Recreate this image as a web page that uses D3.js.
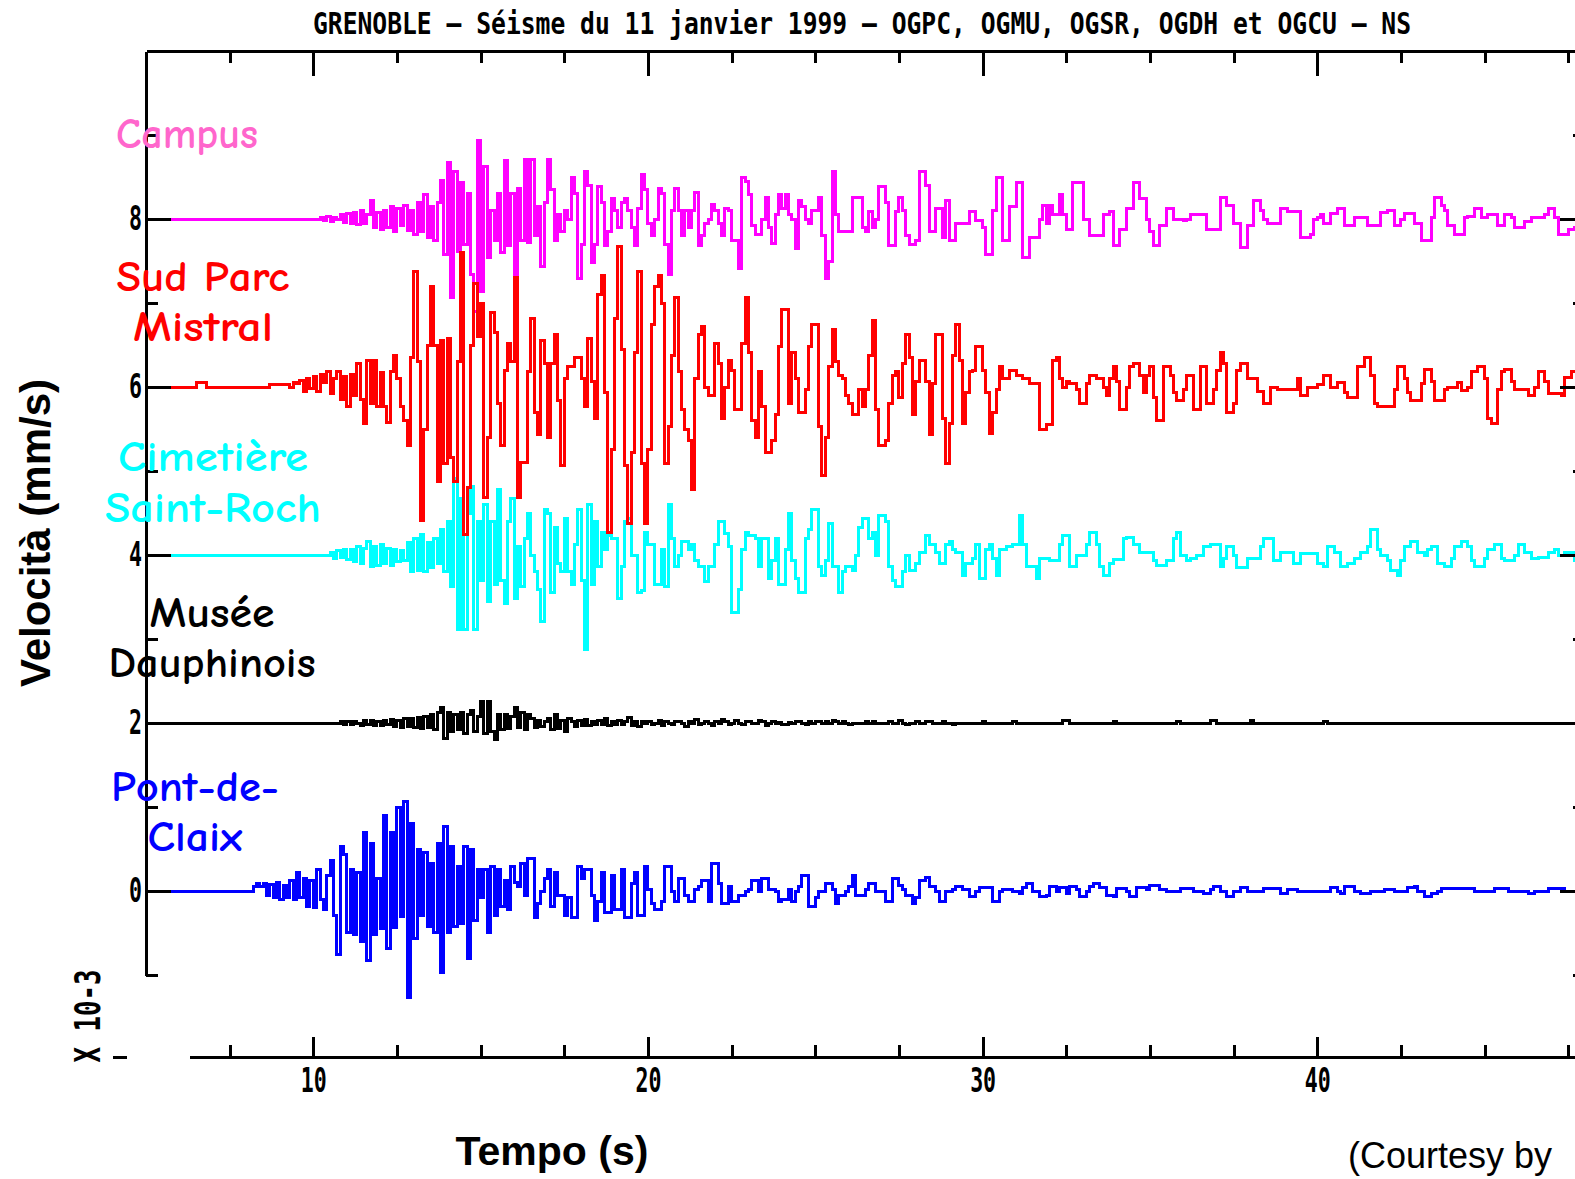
<!DOCTYPE html>
<html>
<head>
<meta charset="utf-8">
<script src="https://cdn.jsdelivr.net/npm/d3@7"></script>
<style>
  html, body { margin: 0; padding: 0; background: #fff; }
  svg { display: block; }
</style>
</head>
<body>
<svg id="chart" width="1575" height="1179"></svg>
<script>
// ---------------------------------------------------------------------------
// Data: NS velocity records of the 11 January 1999 Grenoble earthquake,
// five stations, sampled every 0.1 s (units: 10^-3 mm/s, deviation from the
// trace's own zero line). Each record starts at its onset time; before the
// onset the trace is at rest.
// ---------------------------------------------------------------------------
const titleText = "GRENOBLE – Séisme du 11 janvier 1999 – OGPC, OGMU, OGSR, OGDH et OGCU – NS";
const stationLabels = [["Campus"], ["Sud Parc", "Mistral"], ["Cimetière", "Saint-Roch"], ["Musée", "Dauphinois"], ["Pont-de-", "Claix"]];
const traceOffsets = [8, 6, 4, 2, 0];          // vertical shift of each record
const traceOnsets = [10.0, 6.0, 10.0, 10.0, 8.0]; // time of first listed sample (s)
const sampleStep = 0.1;                          // s
const yTickLabels = [0, 2, 4, 6, 8];
const xTickLabels = [10, 20, 30, 40];
const timeRange = [5, 48];
const velocityRange = [-1, 10];

const campusValues = [
  0,0,.02,-.02,.03,-.03,.02,-.01,.05,-.04,
  .06,-.05,.08,-.06,.1,-.05,.05,.22,-.1,.08,
  -.12,.1,-.1,.15,-.15,.12,-.08,.16,-.14,.1,
  -.18,.2,-.15,.29,-.22,.15,-.25,.2,.46,-.42,
  .67,-.93,.56,-.39,.43,-.3,.3,-.66,-1.1,.94,
  -.86,.63,-.46,.1,-.25,.3,-.4,.7,-.32,.3,
  -.66,.36,-.25,.71,-.28,.71,-.2,.15,-.56,.2,
  .71,.35,-.25,.05,-.15,.1,0,.5,.3,-.71,
  -.3,.56,.4,-.52,-.3,.39,.2,-.32,-.15,.25,
  .1,-.1,.2,.25,.1,-.1,-.32,.12,.53,.35,
  -.05,-.2,0,.36,.3,-.3,-.66,.1,.36,.1,
  -.2,.1,-.1,.1,.31,-.32,-.2,-.05,0,.17,
  .1,-.05,-.2,.12,.1,-.25,-.25,-.59,.5,.45,
  .29,-.08,-.18,-.18,0,.26,-.1,-.29,.05,.29,
  .12,.29,.05,0,-.35,.22,.15,0,-.05,.1,
  .1,.26,-.2,-.71,-.5,.56,.05,-.15,-.15,-.15,
  -.15,.26,.26,.26,-.1,-.15,.09,-.1,0,.39,
  .39,.2,-.32,-.32,.09,.26,.1,-.2,-.3,-.3,
  -.25,.56,.56,.4,-.15,-.15,.12,.12,-.22,.22,
  -.25,-.25,-.05,-.05,-.05,-.05,.09,.09,-.02,-.02,
  -.1,-.42,-.42,.1,.5,.5,-.25,-.25,.15,.15,
  .43,.43,-.46,-.46,-.22,-.22,-.22,0,.16,-.05,
  .16,.05,.05,.29,.05,-.12,-.12,.43,.43,.43,
  0,0,-.2,-.2,-.2,-.2,.05,.05,.09,-.31,
  -.31,-.12,-.12,.12,.12,.43,.43,.25,.25,0,
  -.15,-.31,-.31,-.08,-.08,.12,.12,0,0,0,
  -.02,0,.05,.05,.05,.05,.05,-.12,-.12,-.12,
  -.12,.26,.26,.16,.16,-.05,-.05,-.34,-.34,-.08,
  -.08,.22,.22,.1,0,-.05,-.05,-.05,-.05,.12,
  .12,.09,.09,.09,.09,-.22,-.22,-.22,-.18,0,
  .02,.05,-.05,-.05,.07,.07,.12,.12,-.08,-.08,
  -.08,.02,.02,.02,.02,-.08,-.08,-.08,-.08,.08,
  .08,.1,.1,-.08,-.08,0,.07,.07,.07,-.05,
  -.05,-.25,-.25,-.25,.02,.26,.26,.16,.1,-.08,
  -.08,-.18,-.18,-.18,.02,.03,.03,.12,.12,.02,
  .02,.05,.05,.05,-.08,-.08,.05,.05,.02,-.1,
  -.1,-.1,-.03,-.03,.02,.02,.02,.02,.05,.12,
  .12,.02,-.18,-.18,-.18,-.12,-.12,-.1,0,0
];

const sudParcValues = [
  0,0,0,0,0,.05,.05,.05,0,0,
  0,0,0,0,0,0,0,0,0,0,
  0,0,0,0,0,0,0,.03,.03,.03,
  .03,.03,.03,0,.05,.04,.08,-.05,.1,-.02,
  .12,-.05,.15,.05,.18,-.08,.1,.18,-.15,.12,
  -.23,.15,-.1,.28,-.15,-.43,.31,-.2,.31,-.23,
  .17,-.23,-.42,.18,.37,.1,-.23,-.4,-.7,.35,
  1.37,.3,-1.59,-.5,.5,1.2,.5,-1.12,.55,-.91,
  .58,-.84,-1.12,.3,1.6,-1.76,-1.2,.5,1.23,.6,
  1.0,-1.32,-.6,.89,.65,-.2,-.7,.2,.52,.3,
  1.3,-1.32,-.9,-.9,.18,.82,-.3,-.57,.55,.28,
  -.6,.28,.62,-.16,-.94,.1,.24,.24,.35,.35,
  .1,-.23,.58,.07,-.37,1.1,1.33,-.06,-1.73,-.74,
  .82,1.67,.45,-.94,-1.62,-.78,.41,1.37,-.91,-1.62,
  -.74,.75,1.2,1.33,1.0,-.91,-.47,.38,1.06,.18,
  -.27,-.5,-.64,-1.22,.1,.62,.72,0,-.1,-.1,
  .52,.28,-.37,0,.31,.2,-.27,-.27,.52,1.06,
  .41,-.4,-.6,.18,-.23,-.78,-.78,-.64,-.33,.48,
  .92,.92,-.2,.41,.1,-.3,-.3,-.03,.48,.75,
  .75,-.47,-1.05,-.6,.24,.69,.3,.14,.1,-.1,
  -.2,-.33,-.33,-.03,-.23,-.03,.38,.79,-.27,-.7,
  -.7,-.64,-.2,.14,.18,-.13,.28,.62,.35,-.33,
  .07,.31,.31,.07,-.57,.04,.62,.62,-.37,-.91,
  -.44,.38,.75,.31,-.44,-.06,.18,.2,.48,.48,
  .2,-.06,-.55,-.3,-.03,.24,.1,.1,.2,.2,
  .14,.14,.1,.1,.04,.04,.04,-.5,-.5,-.45,
  -.45,.31,.35,.1,0,.07,.04,.04,-.03,-.2,
  -.2,.04,.14,.14,.1,.1,0,-.1,.1,.24,
  .07,-.27,-.27,0,.24,.28,.28,.14,-.06,.14,
  .24,-.13,-.4,-.4,.24,.24,.14,-.06,-.16,-.16,
  -.03,.14,.14,-.27,-.27,.24,.24,-.2,-.2,-.03,
  .2,.41,.28,-.3,-.3,-.2,.2,.28,.28,.1,
  .1,.1,-.05,-.05,-.2,-.2,0,0,-.03,-.03,
  -.03,-.03,-.03,-.03,.1,-.1,-.1,0,0,0,
  .03,.03,.14,.14,0,0,.05,.05,-.06,-.13,
  -.13,-.13,.24,.24,.35,.35,.14,-.2,-.23,-.23,
  -.23,-.23,-.23,-.03,.24,.24,.1,-.06,-.16,-.16,
  -.16,.04,.21,.21,.07,-.16,-.16,-.16,-.03,0,
  0,0,.05,-.04,-.04,0,.18,.18,.24,.24,
  .1,-.37,-.44,-.44,-.03,.18,.21,.21,.07,-.03,
  -.03,-.03,-.03,-.1,-.1,0,.18,.18,.07,-.08,
  -.08,-.08,-.08,-.1,.11,.11,.18,.18,.18,.18
];

const cimetiereValues = [
  0,0,0,0,0,.03,-.04,.05,-.03,.06,
  -.05,.07,-.08,.1,-.1,.08,.16,-.14,.1,-.12,
  .12,-.1,.08,-.12,.06,-.08,.05,-.07,.15,-.2,
  .2,-.18,.25,-.2,.15,-.15,.2,-.1,.3,-.2,
  .4,-.38,.91,-.89,.67,-.89,.5,.81,-.89,.4,
  -.3,.6,-.55,.4,-.35,.78,-.3,-.58,.4,.67,
  -.52,.1,-.38,.2,.5,0,-.2,-.41,-.79,.54,
  .5,-.45,.33,-.1,-.2,.44,-.2,-.35,.13,.54,
  -.3,-1.13,.6,-.35,.4,-.14,.27,.06,.23,.2,
  .2,-.52,-.14,.4,.44,0,0,-.45,-.42,.27,
  .13,.13,-.35,-.35,.06,-.38,.6,.2,-.14,0,
  .16,.16,.06,.13,-.07,-.14,-.14,-.31,-.14,-.14,
  .13,.4,.4,.26,.1,-.69,-.69,-.41,.06,.27,
  .23,.23,.2,-.14,.2,.2,-.28,-.07,.2,-.35,
  -.35,.06,.5,-.07,-.28,-.45,-.45,.2,.3,.54,
  .54,-.14,-.24,-.07,.37,-.14,-.14,-.45,-.2,-.14,
  -.14,-.18,0,.33,.44,.44,.2,.27,0,.47,
  .47,.4,-.14,-.3,-.38,-.38,-.2,0,-.18,-.18,
  -.1,.03,.03,.23,.13,.13,.03,-.1,-.1,.13,
  .16,.06,.03,.03,-.24,-.1,-.1,-.04,.13,-.28,
  -.28,.06,.13,-.04,-.24,.06,.06,.1,.1,.13,
  .13,.47,.13,-.14,-.14,-.14,-.28,-.04,-.04,-.04,
  -.07,-.07,-.07,.13,.23,.23,-.14,-.14,0,0,
  0,.13,.27,.27,.13,-.14,-.24,-.24,-.1,-.05,
  -.05,-.05,.2,.21,.21,.13,.13,.03,.03,.03,
  .03,-.07,-.12,-.12,-.12,-.07,-.07,.2,.27,0,
  0,-.07,-.04,-.04,0,0,.1,.1,.13,.13,
  .13,-.14,-.04,.1,.1,0,-.15,-.15,-.15,-.04,
  -.04,-.04,-.04,.1,.2,.2,.2,-.07,-.07,.03,
  .03,.03,.03,-.1,-.1,.02,.02,.02,.02,.02,
  -.1,-.1,-.14,.1,.1,.03,.03,-.14,-.14,-.1,
  -.1,-.04,-.04,.03,.03,.1,.3,.3,.06,0,
  0,-.07,-.18,-.18,-.24,-.07,.1,.1,.16,.16,
  .03,.03,0,.06,.1,.1,-.1,-.1,-.14,-.14,
  -.04,.1,.1,.16,.16,.1,-.07,-.14,-.14,-.14,
  -.04,.06,.06,.13,.13,-.04,-.07,-.07,-.07,0,
  .13,.13,.03,.03,-.04,-.04,-.03,-.03,-.03,.03,
  .03,.06,0,0,.03,.03,.03,-.07,-.07,-.07
];

const museeValues = [
  0,0,0,0,0,0,0,0,.02,-.02,
  .02,-.02,.02,0,-.03,.03,-.02,.03,-.03,.02,
  -.03,.03,-.02,.04,-.04,.03,-.05,.05,-.04,.05,
  -.05,.06,-.06,.08,-.05,.1,-.08,.12,.19,-.18,
  .12,-.1,.1,-.08,.12,-.12,.1,.15,-.1,.08,
  .26,-.12,.26,-.1,-.2,.1,-.08,.1,-.06,.08,
  .19,-.05,.12,-.08,.1,.05,-.05,.03,-.04,.02,
  .05,-.08,.1,-.06,.03,-.1,.05,.02,-.04,.03,
  -.03,.04,-.03,.02,-.02,.03,-.02,.05,-.03,.02,
  -.02,.03,-.02,.02,.06,-.03,.02,-.04,.02,0,
  .02,-.02,0,.03,-.03,.02,0,-.02,.02,.02,
  0,-.04,.02,0,.04,-.02,0,.02,0,-.03,
  .02,0,.04,.02,-.02,0,.03,0,-.02,.02,
  .02,0,0,.03,.02,-.03,0,.02,0,.01,
  -.02,-.02,.01,0,.02,.02,0,-.02,.02,0,
  .02,.02,0,.02,0,.03,.02,0,.02,0,
  -.02,0,0,0,0,.02,0,.02,0,-.01,
  0,0,.02,0,0,.03,0,-.02,0,0,
  .02,0,0,.02,.02,0,0,0,.02,0,
  0,-.02,0,0,0,0,0,0,0,0,
  .02,0,0,0,0,0,0,0,0,.02,
  0,0,0,0,0,0,0,0,0,0,
  0,0,0,0,.03,.03,0,0,0,0,
  0,0,0,0,0,0,0,0,0,.02,
  0,0,0,0,0,0,0,0,0,0,
  0,0,0,0,0,0,0,0,.02,0,
  0,0,0,0,0,0,0,0,.03,.03,
  0,0,0,0,0,0,0,0,0,0,
  .03,0,0,0,0,0,0,0,0,0,
  0,0,0,0,0,0,0,0,0,0,
  0,0,.02,0,0,0,0,0,0,0
];

const pontDeClaixValues = [
  0,0,.05,.09,.05,.09,-.05,.08,-.08,.1,
  -.1,.06,-.08,.12,-.1,.22,-.08,.15,-.18,.12,
  -.2,.26,-.1,-.22,.18,.36,-.29,-.76,.53,.43,
  -.49,.26,-.52,.22,-.6,.7,-.83,.56,-.52,.15,
  -.45,.9,-.69,.7,-.43,1.0,-.3,1.07,-1.27,.8,
  -.56,.5,-.29,.46,-.42,.33,-.49,.56,-.97,.77,
  -.49,.53,-.42,.29,-.39,.53,-.8,.5,-.35,.26,
  -.08,.26,-.49,.29,-.29,.26,-.18,.12,-.22,.29,
  .1,.05,.33,-.05,.39,.39,-.32,-.15,0,.15,
  .26,-.18,.22,-.05,-.05,-.29,-.08,-.32,-.32,.29,
  .15,.26,.26,-.05,-.35,-.12,.22,-.25,-.25,.19,
  -.22,-.22,.26,-.32,-.32,.09,.22,-.29,-.29,.29,
  .02,-.15,-.22,-.22,-.12,.29,.29,0,-.12,.15,
  .15,-.05,-.12,-.12,.02,.05,.12,.12,-.12,.33,
  .33,.09,-.15,-.15,.05,-.12,-.12,-.05,-.05,0,
  .02,.12,.12,-.01,.15,.15,.02,.02,0,-.12,
  -.1,-.1,.02,-.12,-.01,.05,.19,.19,-.18,-.18,
  -.08,-.01,-.01,.09,.09,.02,-.15,-.05,-.05,-.01,
  .05,.19,-.05,-.05,-.05,.02,.09,.09,-.01,-.01,
  -.01,-.12,-.12,.15,.15,.07,.02,-.05,-.05,-.15,
  -.08,.12,.12,.16,.05,.05,0,-.12,-.12,-.01,
  -.01,.02,.05,.05,.02,.02,-.07,-.07,-.01,.04,
  .04,.04,.04,-.12,-.12,-.01,.02,.02,.02,0,
  0,-.03,.04,.09,.09,0,0,-.07,-.07,-.05,
  .05,.05,0,.04,.04,-.03,.05,.05,.02,-.07,
  -.07,0,.05,.09,.09,.04,.04,-.05,-.05,-.07,
  .03,.03,.03,0,-.07,-.07,.04,.04,.04,.02,
  .07,.07,.07,.02,.02,-.01,-.01,-.01,-.01,.03,
  .03,.03,.03,-.01,-.01,-.01,-.03,-.03,.02,.05,
  .05,-.01,-.01,-.07,-.07,-.01,-.01,.04,.04,-.01,
  -.01,0,0,0,.03,.03,.03,.03,.03,-.03,
  -.03,.02,.02,.02,0,0,0,0,0,0,
  0,0,0,0,.04,.04,0,-.03,.05,.05,
  .05,0,0,-.03,-.03,-.03,0,0,0,0,
  .02,.02,.02,0,0,0,0,.04,.04,.05,
  0,0,-.07,-.07,-.03,-.03,0,.03,.03,.03,
  .03,.03,.03,.03,.03,.03,.03,0,0,0,
  0,0,0,.03,.03,.03,.03,0,0,0,
  0,0,0,-.03,-.03,0,0,0,0,.03,
  .03,.03,.03,.03,0,0,0,0,0,0
];

const traceValues = [campusValues, sudParcValues, cimetiereValues, museeValues, pontDeClaixValues];
const traceColors = ["#ff00ff", "#ff0000", "#00ffff", "#000000", "#0000ff"];
const labelColors = ["#ff66cc", "#ff0000", "#00ffff", "#000000", "#0000ff"];

// ---------------------------------------------------------------------------
// Layout
// ---------------------------------------------------------------------------
const W = 1575, H = 1179;
const plot = { left: 146, right: 1585, top: 51, bottom: 975 };
const timeAxisY = 1057;
const timeAxisStart = 6.3;   // the time axis line begins a little right of the frame
const pixelFont = "'DejaVu Sans Mono', 'Liberation Mono', monospace";
const handFont = "'Comic Sans MS', 'Comic Neue', 'Open Sans', 'Noto Sans', sans-serif";
const labelFont = "'Liberation Sans', Arial, Helvetica, sans-serif";

// label placement: centre x, baseline of each line, drawn width of each line
const labelLayout = [
  { x: 187, y: [148],      w: [142] },
  { x: 203, y: [291, 341], w: [173, 140] },
  { x: 213, y: [471, 522], w: [190, 216] },
  { x: 212, y: [627, 677], w: [125, 207] },
  { x: 195, y: [801, 851], w: [168, 95] }
];
const drawOrder = [4, 3, 2, 0, 1];

const svg = d3.select("#chart");
svg.append("rect").attr("width", W).attr("height", H).attr("fill", "#fff");

const x = d3.scaleLinear().domain(timeRange).range([plot.left, plot.right]);
const y = d3.scaleLinear().domain(velocityRange).range([plot.bottom, plot.top]);

// ---------------------------------------------------------------------------
// Traces
// ---------------------------------------------------------------------------
svg.append("clipPath").attr("id", "plot-clip")
  .append("rect")
  .attr("x", plot.left).attr("y", 0)
  .attr("width", plot.right - plot.left).attr("height", H);

function tracePoints(values, onset) {
  const pts = [{ t: timeRange[0], v: 0 }];
  values.forEach((v, i) => pts.push({ t: onset + i * sampleStep, v }));
  pts.push({ t: timeRange[1], v: 0 });
  return pts;
}

const traceLayer = svg.append("g").attr("clip-path", "url(#plot-clip)");
drawOrder.forEach(k => {
  const off = traceOffsets[k];
  const line = d3.line()
    .x(d => x(d.t))
    .y(d => y(off + d.v))
    .curve(d3.curveStepAfter);
  traceLayer.append("path")
    .datum(tracePoints(traceValues[k], traceOnsets[k]))
    .attr("d", line)
    .attr("fill", "none")
    .attr("stroke", traceColors[k])
    .attr("stroke-width", 3)
    .attr("shape-rendering", "crispEdges");
});

// ---------------------------------------------------------------------------
// Frame and axes
// ---------------------------------------------------------------------------
const minorVel = d3.range(velocityRange[0], velocityRange[1], 2);   // -1, 1, ... 9
const minorTime = d3.range(7.5, timeRange[1], 2.5).filter(t => t % 10 !== 0);

function styleAxis(g, keepDomain) {
  if (!keepDomain) g.select(".domain").remove();
  g.selectAll(".domain, .tick line")
    .attr("stroke", "#000")
    .attr("stroke-width", 3)
    .attr("shape-rendering", "crispEdges");
}

// pixel-style numerals: narrow, tall glyphs
function styleNumerals(g, width) {
  g.selectAll("text")
    .attr("font-family", pixelFont).attr("font-size", 34).attr("font-weight", "bold")
    .attr("textLength", d => width * String(d).length)
    .attr("lengthAdjust", "spacingAndGlyphs")
    .attr("fill", "#000");
}

// left side
svg.append("g").attr("transform", `translate(${plot.left},0)`)
  .call(d3.axisLeft(y).tickValues(yTickLabels).tickSizeInner(-25).tickSizeOuter(0)
    .tickPadding(4).tickFormat(d3.format("d")))
  .call(g => styleAxis(g, true))
  .call(g => styleNumerals(g, 13));
svg.append("g").attr("transform", `translate(${plot.left},0)`)
  .call(d3.axisLeft(y).tickValues(minorVel).tickSizeInner(-12).tickSizeOuter(0).tickFormat(""))
  .call(g => styleAxis(g, false));

// right side
svg.append("g").attr("transform", `translate(${plot.right},0)`)
  .call(d3.axisRight(y).tickValues(yTickLabels).tickSizeInner(-25).tickSizeOuter(0).tickFormat(""))
  .call(g => styleAxis(g, true));
svg.append("g").attr("transform", `translate(${plot.right},0)`)
  .call(d3.axisRight(y).tickValues(minorVel).tickSizeInner(-12).tickSizeOuter(0).tickFormat(""))
  .call(g => styleAxis(g, false));

// top side
svg.append("g").attr("transform", `translate(0,${plot.top})`)
  .call(d3.axisTop(x).tickValues(xTickLabels).tickSizeInner(-25).tickSizeOuter(0).tickFormat(""))
  .call(g => styleAxis(g, true));
svg.append("g").attr("transform", `translate(0,${plot.top})`)
  .call(d3.axisTop(x).tickValues(minorTime).tickSizeInner(-12).tickSizeOuter(0).tickFormat(""))
  .call(g => styleAxis(g, false));

// time axis below the frame
svg.append("line")
  .attr("x1", x(timeAxisStart)).attr("x2", plot.right)
  .attr("y1", timeAxisY).attr("y2", timeAxisY)
  .attr("stroke", "#000").attr("stroke-width", 3)
  .attr("shape-rendering", "crispEdges");
svg.append("g").attr("transform", `translate(0,${timeAxisY})`)
  .call(d3.axisBottom(x).tickValues(xTickLabels).tickSizeInner(-20).tickSizeOuter(0)
    .tickPadding(11).tickFormat(d3.format("d")))
  .call(g => styleAxis(g, false))
  .call(g => styleNumerals(g, 13));
svg.append("g").attr("transform", `translate(0,${timeAxisY})`)
  .call(d3.axisBottom(x).tickValues(minorTime).tickSizeInner(-12).tickSizeOuter(0).tickFormat(""))
  .call(g => styleAxis(g, false));

// scale factor of the velocity axis
svg.append("text")
  .attr("transform", "translate(100,1016) rotate(-90) scale(1,1.4)")
  .attr("text-anchor", "middle")
  .attr("font-family", pixelFont).attr("font-size", 25).attr("font-weight", "bold")
  .attr("textLength", 93).attr("lengthAdjust", "spacingAndGlyphs")
  .attr("fill", "#000")
  .text("X 10-3");
svg.append("line")
  .attr("x1", 113).attr("x2", 127).attr("y1", timeAxisY).attr("y2", timeAxisY)
  .attr("stroke", "#000").attr("stroke-width", 3)
  .attr("shape-rendering", "crispEdges");

// ---------------------------------------------------------------------------
// Titles and labels
// ---------------------------------------------------------------------------
svg.append("text")
  .attr("transform", "translate(313,34) scale(1,1.28)")
  .attr("font-family", pixelFont).attr("font-size", 24).attr("font-weight", "bold")
  .attr("textLength", 1098).attr("lengthAdjust", "spacingAndGlyphs")
  .attr("fill", "#000")
  .text(titleText);

svg.append("text")
  .attr("transform", "translate(50,533) rotate(-90)")
  .attr("text-anchor", "middle")
  .attr("font-family", labelFont).attr("font-weight", "bold").attr("font-size", 42)
  .attr("fill", "#000")
  .text("Velocità (mm/s)");

svg.append("text")
  .attr("x", 552).attr("y", 1165)
  .attr("text-anchor", "middle")
  .attr("font-family", labelFont).attr("font-weight", "bold").attr("font-size", 41)
  .attr("fill", "#000")
  .text("Tempo (s)");

svg.append("text")
  .attr("x", 1348).attr("y", 1168)
  .attr("font-family", labelFont).attr("font-size", 36)
  .attr("fill", "#000")
  .text("(Courtesy by");

stationLabels.forEach((lines, k) => {
  const L = labelLayout[k];
  lines.forEach((s, j) => {
    svg.append("text")
      .attr("x", L.x).attr("y", L.y[j])
      .attr("text-anchor", "middle")
      .attr("font-family", handFont).attr("font-size", 42).attr("font-weight", 600)
      .attr("textLength", L.w[j]).attr("lengthAdjust", "spacingAndGlyphs")
      .attr("fill", labelColors[k])
      .text(s);
  });
});
</script>
</body>
</html>
